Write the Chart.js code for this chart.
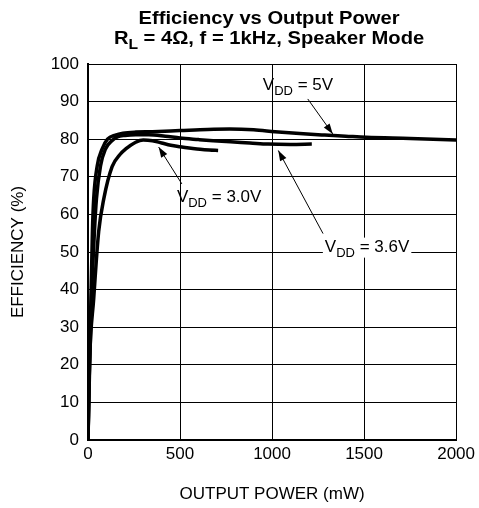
<!DOCTYPE html>
<html>
<head>
<meta charset="utf-8">
<script src="https://cdn.jsdelivr.net/npm/chart.js@4.4.1/dist/chart.umd.min.js"></script>
<style>
  html, body { margin: 0; padding: 0; background: #fff; }
  #grafica { display: block; }
</style>
</head>
<body>
<canvas id="grafica" width="479" height="508"></canvas>
<script>
// datos (mW, %)
const potencia5V = [0, 8, 16, 24, 31, 50, 77, 106, 149, 190, 260, 350, 500, 650, 770, 900, 1016, 1150, 1286, 1400, 1512, 1750, 2000];
const eficiencia5V = [0, 20, 37.6, 55.4, 64.2, 72.9, 77.4, 80, 81.1, 81.6, 81.9, 82.0, 82.3, 82.6, 82.7, 82.5, 82.0, 81.5, 81.1, 80.8, 80.5, 80.2, 79.8];

const potencia36V = [0, 9, 19, 35, 46, 68, 95, 130, 160, 200, 260, 330, 420, 500, 600, 680, 774, 880, 978, 1100, 1216];
const eficiencia36V = [0, 20, 37.6, 55.4, 64.2, 72.9, 77.4, 79.6, 80.6, 81.0, 81.2, 81.2, 80.8, 80.3, 79.9, 79.6, 79.3, 79.0, 78.7, 78.6, 78.7];

const potencia30V = [0, 8, 31, 58, 86, 131, 175, 205, 259, 300, 350, 400, 450, 501, 560, 609, 660, 707];
const eficiencia30V = [0, 20, 37.6, 55.4, 64.2, 72.7, 76.0, 77.4, 79.2, 79.8, 79.6, 79.0, 78.4, 78.0, 77.6, 77.3, 77.1, 77.0];

const ticksX = [0, 500, 1000, 1500, 2000];
const ticksY = [0, 10, 20, 30, 40, 50, 60, 70, 80, 90, 100];

const tituloLinea1 = [{ t: 'Efficiency vs Output Power' }];
const tituloLinea2 = [{ t: 'R' }, { t: 'L', sub: true }, { t: ' = 4Ω, f = 1kHz, Speaker Mode' }];

// etiquetas con flecha, en unidades de la grafica
const etiquetas = [
  { partes: [{ t: 'V' }, { t: 'DD', sub: true }, { t: ' = 5V' }], x: 950, y: 93.0, desde: [1194, 90.7], hasta: [1330, 81.4], fondo: false },
  { partes: [{ t: 'V' }, { t: 'DD', sub: true }, { t: ' = 3.0V' }], x: 483, y: 63.4, desde: [510, 68.1], hasta: [384, 77.9], fondo: false },
  { partes: [{ t: 'V' }, { t: 'DD', sub: true }, { t: ' = 3.6V' }], x: 1287, y: 50.1, desde: [1277, 54.9], hasta: [1034, 77.0], fondo: true }
];

const hacerPuntos = function (xs, ys) {
  return xs.map((x, i) => ({ x: x, y: ys[i] }));
};

const FAMILIA = '"Liberation Sans", Arial, sans-serif';

const anchoTexto = function (ctx, partes, tam, negrita) {
  let ancho = 0;
  for (const p of partes) {
    ctx.font = (negrita ? 'bold ' : '') + (p.sub ? Math.round(tam * 0.78) : tam) + 'px ' + FAMILIA;
    ancho += ctx.measureText(p.t).width;
  }
  return ancho;
};

const dibujaTexto = function (ctx, partes, x, y, tam, negrita) {
  let px = x;
  ctx.textBaseline = 'alphabetic';
  ctx.textAlign = 'left';
  for (const p of partes) {
    const t = p.sub ? Math.round(tam * 0.78) : tam;
    ctx.font = (negrita ? 'bold ' : '') + t + 'px ' + FAMILIA;
    ctx.fillText(p.t, px, p.sub ? y + tam * 0.3 : y);
    px += ctx.measureText(p.t).width;
  }
};

const flecha = function (ctx, x1, y1, x2, y2) {
  ctx.beginPath();
  ctx.moveTo(x1, y1);
  ctx.lineTo(x2, y2);
  ctx.lineWidth = 1;
  ctx.strokeStyle = '#000';
  ctx.stroke();
  const ang = Math.atan2(y2 - y1, x2 - x1);
  const largo = 11, abre = 0.33;
  ctx.beginPath();
  ctx.moveTo(x2, y2);
  ctx.lineTo(x2 - largo * Math.cos(ang - abre), y2 - largo * Math.sin(ang - abre));
  ctx.lineTo(x2 - largo * Math.cos(ang + abre), y2 - largo * Math.sin(ang + abre));
  ctx.closePath();
  ctx.fillStyle = '#000';
  ctx.fill();
};

const pluginNotas = {
  id: 'notas',
  afterDraw(chart) {
    const ctx = chart.ctx;
    const sx = chart.scales.x, sy = chart.scales.y;
    ctx.save();
    ctx.fillStyle = '#000';
    // titulo de dos lineas, algo estirado a lo ancho como el original
    const centro = (chart.chartArea.left + chart.chartArea.right) / 2 - 3;
    const estira = 1.12;
    ctx.save();
    ctx.translate(centro, 0);
    ctx.scale(estira, 1);
    let w = anchoTexto(ctx, tituloLinea1, 18, true);
    dibujaTexto(ctx, tituloLinea1, -w / 2, 24, 18, true);
    w = anchoTexto(ctx, tituloLinea2, 18, true);
    dibujaTexto(ctx, tituloLinea2, -w / 2, 44, 18, true);
    ctx.restore();

    for (const e of etiquetas) {
      const x = sx.getPixelForValue(e.x), y = sy.getPixelForValue(e.y);
      const wt = anchoTexto(ctx, e.partes, 17, false);
      if (e.fondo) {
        ctx.fillStyle = '#fff';
        ctx.fillRect(x - 2, y - 14, wt + 4, 20);
      }
      ctx.fillStyle = '#000';
      dibujaTexto(ctx, e.partes, x, y, 17, false);
      flecha(ctx,
        sx.getPixelForValue(e.desde[0]), sy.getPixelForValue(e.desde[1]),
        sx.getPixelForValue(e.hasta[0]), sy.getPixelForValue(e.hasta[1]));
    }
    ctx.restore();
  }
};

const serie = function (etiqueta, xs, ys) {
  return {
    label: etiqueta,
    data: hacerPuntos(xs, ys),
    borderColor: '#000',
    backgroundColor: '#000',
    borderWidth: 3.5,
    pointRadius: 0,
    cubicInterpolationMode: 'monotone',
    fill: false
  };
};

Chart.defaults.font.family = FAMILIA;
Chart.defaults.font.size = 17;
Chart.defaults.color = '#000';

new Chart(document.getElementById('grafica').getContext('2d'), {
  type: 'line',
  data: {
    datasets: [
      serie('VDD = 5V', potencia5V, eficiencia5V),
      serie('VDD = 3.6V', potencia36V, eficiencia36V),
      serie('VDD = 3.0V', potencia30V, eficiencia30V)
    ]
  },
  options: {
    responsive: false,
    animation: false,
    layout: { padding: { top: 64, right: 22, left: 0, bottom: 0 } },
    plugins: { legend: { display: false }, title: { display: false }, tooltip: { enabled: false } },
    scales: {
      x: {
        type: 'linear', min: 0, max: 2000,
        afterFit: (s) => { s.height = 68; },
        afterBuildTicks: (s) => { s.ticks = ticksX.map(v => ({ value: v })); },
        ticks: { padding: 4, font: { size: 17 }, callback: (v) => String(v) },
        grid: { color: '#000', lineWidth: 1, drawTicks: false },
        border: { color: '#000', width: 2 },
        title: { display: true, text: 'OUTPUT POWER (mW)', font: { size: 17 }, padding: { top: 0, bottom: 3 } }
      },
      y: {
        type: 'linear', min: 0, max: 100,
        afterFit: (s) => { s.width = 88; },
        afterBuildTicks: (s) => { s.ticks = ticksY.map(v => ({ value: v })); },
        ticks: { padding: 9, font: { size: 17 }, callback: (v) => String(v) },
        grid: { color: '#000', lineWidth: 1, drawTicks: false },
        border: { color: '#000', width: 2 },
        title: { display: true, text: 'EFFICIENCY (%)', font: { size: 17 }, padding: { top: 8, bottom: 0 } }
      }
    }
  },
  plugins: [pluginNotas]
});
</script>
</body>
</html>
